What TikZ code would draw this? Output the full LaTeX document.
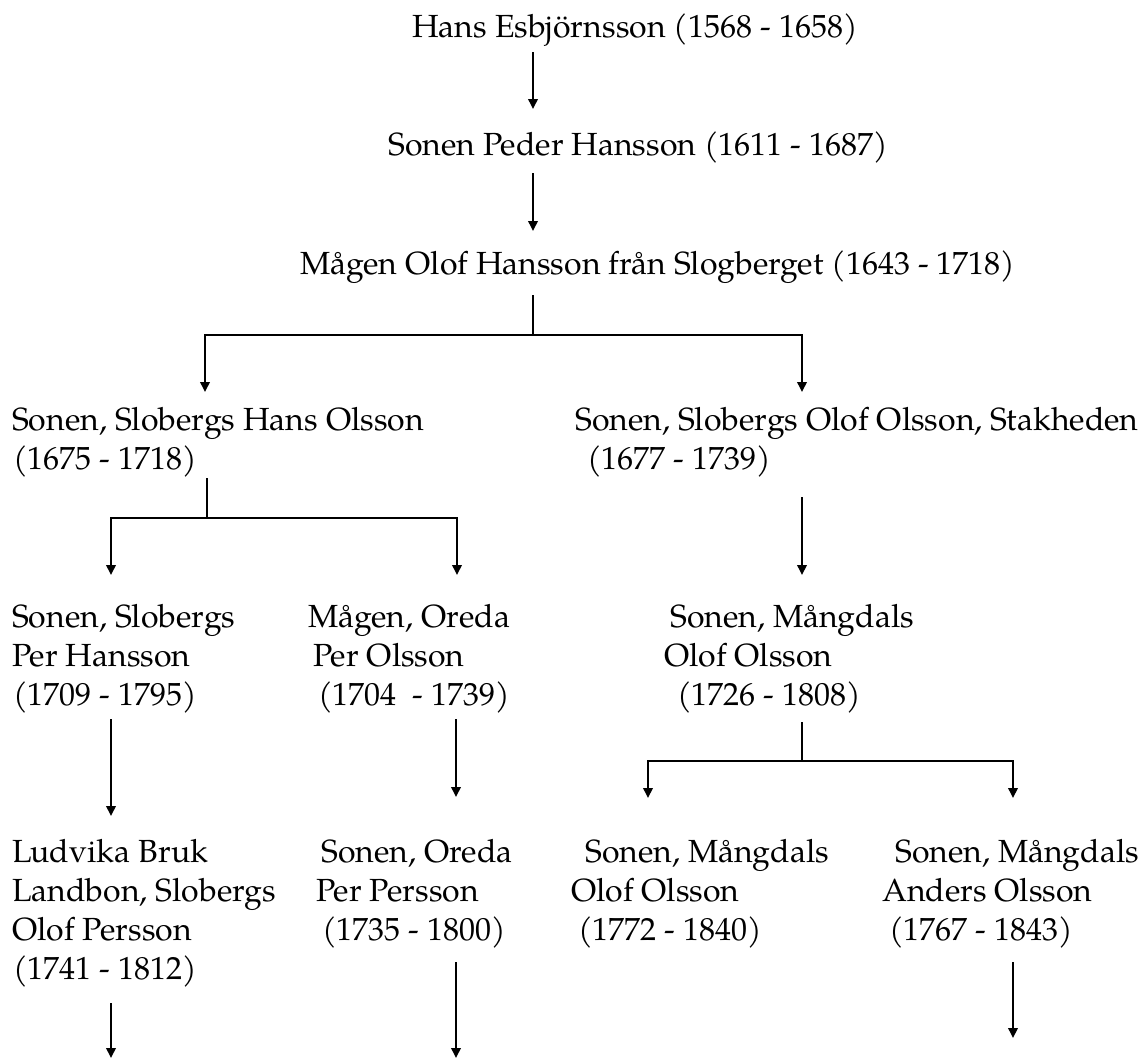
\documentclass[tikz,border=0pt]{standalone}
\usepackage{fontspec}
\setmainfont{TeX Gyre Pagella}
\usetikzlibrary{arrows.meta}
\begin{document}
\begin{tikzpicture}[x=1bp,y=-1bp,
  txt/.style={anchor=base west,inner sep=0pt,font=\fontsize{32bp}{39bp}\selectfont},
  conn/.style={line width=1.9bp},
  arr/.style={conn,-{Triangle[length=10bp,width=9.5bp]}}]
\useasboundingbox[fill=white] (0,0) rectangle (1143,1059);
% generation 0-2
\node[txt] (hans)  at (412,37)  {Hans Esbjörnsson (1568 - 1658)};
\node[txt] (peder) at (388,155) {Sonen Peder Hansson (1611 - 1687)};
\node[txt] (magen) at (300,274) {Mågen Olof Hansson från Slogberget (1643 - 1718)};
% generation 3
\node[txt] (hansOa) at (12,430)  {Sonen, Slobergs Hans Olsson};
\node[txt] (hansOb) at (13,469)  {(1675 - 1718)};
\node[txt] (olofOa) at (575,430) {Sonen, Slobergs Olof Olsson, Stakheden};
\node[txt] (olofOb) at (587,469) {(1677 - 1739)};
% generation 4
\node[txt] (perHa) at (12,627) {Sonen, Slobergs};
\node[txt] (perHb) at (12,666) {Per Hansson};
\node[txt] (perHc) at (13,705) {(1709 - 1795)};
\node[txt] (perOa) at (308,627) {Mågen, Oreda};
\node[txt] (perOb) at (313,666) {Per Olsson};
\node[txt] (perOc) at (318,705) {(1704\ \ - 1739)};
\node[txt] (mOlofa) at (670,627) {Sonen, Mångdals};
\node[txt] (mOlofb) at (664,666) {Olof Olsson};
\node[txt] (mOlofc) at (677,705) {(1726 - 1808)};
% generation 5
\node[txt] (luda) at (12,862) {Ludvika Bruk};
\node[txt] (ludb) at (12,901) {Landbon, Slobergs};
\node[txt] (ludc) at (12,940) {Olof Persson};
\node[txt] (ludd) at (13,979) {(1741 - 1812)};
\node[txt] (perPa) at (321,862) {Sonen, Oreda};
\node[txt] (perPb) at (316,901) {Per Persson};
\node[txt] (perPc) at (322,940) {(1735 - 1800)};
\node[txt] (mOa) at (585,862) {Sonen, Mångdals};
\node[txt] (mOb) at (571,901) {Olof Olsson};
\node[txt] (mOc) at (578,940) {(1772 - 1840)};
\node[txt] (mAa) at (895,862) {Sonen, Mångdals};
\node[txt] (mAb) at (882,901) {Anders Olsson};
\node[txt] (mAc) at (889,940) {(1767 - 1843)};
% connector points
\coordinate (a1s) at (533,52);   \coordinate (a1e) at (533,109);
\coordinate (a2s) at (533,173);  \coordinate (a2e) at (533,231);
\coordinate (b1s) at (533,295);  \coordinate (b1j) at (533,335);
\coordinate (b1l) at (205,392);  \coordinate (b1r) at (802,392);
\coordinate (b2s) at (207,478);  \coordinate (b2j) at (207,518);
\coordinate (b2l) at (111,575);  \coordinate (b2r) at (457,575);
\coordinate (a3s) at (802,497);  \coordinate (a3e) at (802,575);
\coordinate (a4s) at (111,719);  \coordinate (a4e) at (111,816);
\coordinate (a5s) at (456,719);  \coordinate (a5e) at (456,797);
\coordinate (b3s) at (802,722);  \coordinate (b3j) at (802,761);
\coordinate (b3l) at (648,798);  \coordinate (b3r) at (1013,798);
\coordinate (a6s) at (111,1003); \coordinate (a6e) at (111,1058);
\coordinate (a7s) at (456,962);  \coordinate (a7e) at (456,1058);
\coordinate (a8s) at (1013,962); \coordinate (a8e) at (1013,1038);
% connectors
\draw[arr] (a1s) -- (a1e);
\draw[arr] (a2s) -- (a2e);
\draw[conn] (b1s) -- (b1j);
\draw[arr] (b1j) -| (b1l);
\draw[arr] (b1j) -| (b1r);
\draw[conn] (b2s) -- (b2j);
\draw[arr] (b2j) -| (b2l);
\draw[arr] (b2j) -| (b2r);
\draw[arr] (a3s) -- (a3e);
\draw[arr] (a4s) -- (a4e);
\draw[arr] (a5s) -- (a5e);
\draw[conn] (b3s) -- (b3j);
\draw[arr] (b3j) -| (b3l);
\draw[arr] (b3j) -| (b3r);
\draw[arr] (a6s) -- (a6e);
\draw[arr] (a7s) -- (a7e);
\draw[arr] (a8s) -- (a8e);
\end{tikzpicture}
\end{document}
